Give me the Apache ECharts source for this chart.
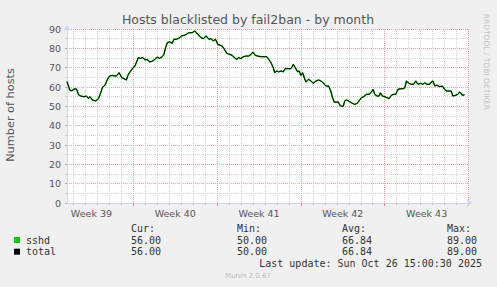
<!DOCTYPE html>
<html><head><meta charset="utf-8">
<script src="https://cdn.jsdelivr.net/npm/echarts@6/dist/echarts.min.js"></script>
<style>html,body{margin:0;padding:0;background:#f0f0f0;}#c{width:497px;height:287px;}</style>
</head><body><div id="c"></div>
<script>
const chartTitle = 'Hosts blacklisted by fail2ban - by month';
const yName = 'Number of hosts';
const watermark = 'RRDTOOL / TOBI OETIKER';
const footer = 'Munin 2.0.67';
const lastUpdate = 'Last update: Sun Oct 26 15:00:30 2025';

// x = days since start of Week 39
const days = [1.46,1.69,1.86,2.06,2.25,2.42,2.61,2.89,3.09,3.25,3.36,3.59,3.86,4.09,4.28,4.42,4.64,4.84,5.03,5.25,5.39,5.59,5.81,6.03,6.23,6.42,6.59,6.78,6.98,7.14,7.25,7.42,7.61,7.81,7.98,8.17,8.36,8.59,8.81,9.0,9.19,9.42,9.56,9.69,9.84,10.03,10.25,10.39,10.59,10.81,11.03,11.23,11.42,11.64,11.92,12.14,12.47,12.67,12.86,13.09,13.31,13.5,13.69,13.86,14.06,14.25,14.42,14.61,14.81,15.03,15.25,15.44,15.64,15.81,16.0,16.19,16.42,16.64,16.84,16.98,17.19,17.39,17.67,17.94,18.14,18.31,18.5,18.69,18.81,18.98,19.14,19.34,19.53,19.69,19.89,20.17,20.36,20.53,20.73,20.86,21.0,21.14,21.28,21.42,21.64,21.84,22.03,22.25,22.48,22.67,22.86,23.09,23.31,23.5,23.64,23.78,23.92,24.11,24.31,24.53,24.67,24.81,24.95,25.14,25.31,25.5,25.69,25.86,26.06,26.25,26.47,26.69,26.89,27.03,27.17,27.36,27.53,27.64,27.81,28.0,28.19,28.36,28.56,28.75,28.92,29.11,29.31,29.53,29.69,29.81,30.03,30.22,30.42,30.59,30.78,30.98,31.19,31.34,31.53,31.75,31.89,32.03,32.19,32.36,32.59,32.81,33.0,33.19,33.42,33.56,33.69,33.92,34.11,34.25,34.39,34.48,34.67];
const hosts = [62.8,58.4,58,59,59,56,55.3,55,55.3,54,55,53.3,52.8,54,57,59.7,61,64,65.7,66,65.7,65.7,67.4,64.8,64.3,63.6,66.6,68.3,70,70.9,72.6,75.2,74.8,75.2,74,74.3,72.9,73.4,74.3,75.5,74.8,75.7,76.9,80.3,82.9,83.4,82.6,84.7,84.7,85.2,86.4,86.7,87.2,88.1,88.1,89,86.7,85.5,85,86.4,84.7,85,83.8,84.7,82,81.6,81.2,79.5,77.4,76.9,76.4,75.2,74.3,75.2,74.7,75.7,76,76,76.9,78.1,76.4,76,75.7,75.7,75.7,74.3,72.6,70,67.4,68.3,67.8,68.3,67.8,69.5,69.5,69.5,71.7,70,67.8,68.3,66,67.4,64.8,62.6,64,63.1,61.9,63.1,63.6,63.1,62.2,60.5,60.5,57.9,54.5,52.2,52.2,52.2,50.2,50,52.8,53.3,52.8,52.2,51.5,51,51.5,52.8,54.5,55,56.2,56.2,57.4,58.8,56.2,55.3,55.3,57,55.3,55,54.5,54,55.7,56.2,56.2,58.8,59.1,59.1,59.7,63.1,61.9,61.4,61.4,63.1,61.4,61.9,61.4,62.2,61.4,61.4,62.6,63.1,60.5,60.9,60.2,60.5,58.8,57.9,57.9,57.9,55.3,55.7,56.2,57.4,56.7,55.7,56];

const weekLabels = ['Week 39','Week 40','Week 41','Week 42','Week 43'];
const weekCenters = [3.5,10.5,17.5,24.5,31.5];
const weekLines = [7,14,21,28,35];
const dayLines = [2,3,4,5,6,8,9,10,11,12,13,15,16,17,18,19,20,22,23,24,25,26,27,29,30,31,32,33,34];

const legendNames = ['sshd','total'];
const legendColors = ['#00cc00','#000000'];
const legendHeaders = ['Cur:','Min:','Avg:','Max:'];
const sshdStats = ['56.00','50.00','66.84','89.00'];
const totalStats = ['56.00','50.00','66.84','89.00'];

const SANS = 'DejaVu Sans';
const colX = [131,237,342,447];

const graphics = [
  {type:'text', x:248, y:19, style:{text:chartTitle, align:'center', verticalAlign:'middle', font:'12.5px "DejaVu Sans"', fill:'#555'}},
  {type:'text', x:10, y:115, rotation:Math.PI/2, style:{text:yName, align:'center', verticalAlign:'middle', font:'11.3px "DejaVu Sans"', fill:'#555'}},
  {type:'text', x:486, y:62, rotation:-Math.PI/2, style:{text:watermark, align:'center', verticalAlign:'middle', font:'7.5px "DejaVu Sans"', fill:'#c4c4c4'}},
  {type:'text', x:248, y:276, style:{text:footer, align:'center', verticalAlign:'middle', font:'7px "DejaVu Sans"', fill:'#bbb'}},
  {type:'text', x:482, y:263.5, style:{text:lastUpdate, align:'right', verticalAlign:'middle', font:'10px "DejaVu Sans Mono"', fill:'#333'}}
];
legendHeaders.forEach((h,i)=>graphics.push({type:'text', x:colX[i], y:228, style:{text:h, align:'left', verticalAlign:'middle', font:'10px "DejaVu Sans Mono"', fill:'#333'}}));
[sshdStats,totalStats].forEach((row,r)=>{
  const y = 240 + r*11.7;
  graphics.push({type:'rect', shape:{x:14, y:y-3, width:6, height:6}, style:{fill:legendColors[r]}});
  graphics.push({type:'text', x:26, y:y, style:{text:legendNames[r], align:'left', verticalAlign:'middle', font:'10px "DejaVu Sans Mono"', fill:'#333'}});
  row.forEach((v,i)=>graphics.push({type:'text', x:colX[i], y:y, style:{text:v, align:'left', verticalAlign:'middle', font:'10px "DejaVu Sans Mono"', fill:'#333'}}));
});

const pts = days.map((d,i)=>[d, hosts[i]]);
const chart = echarts.init(document.getElementById('c'), null, {renderer:'svg'});
chart.setOption({
  animation:false,
  backgroundColor:'#f0f0f0',
  grid:{left:67, right:28.5, top:29, bottom:84, show:true, backgroundColor:'#ffffff', borderWidth:0},
  xAxis:[
    {type:'value', min:1.46, max:35, position:'bottom',
     axisLine:{show:true, onZero:false, lineStyle:{color:'#cfd6f8'}, symbol:['none','arrow'], symbolSize:[6,6], symbolOffset:[0,4]},
     axisTick:{show:true, customValues:dayLines, length:2, lineStyle:{color:'#bbb'}},
     splitLine:{show:true, lineStyle:{color:'#d2d2d2', type:[1,1]}},
     axisLabel:{show:false}},
    {type:'value', min:1.46, max:35, position:'bottom',
     axisLine:{show:false, onZero:false},
     axisTick:{show:true, customValues:weekLines, length:3, lineStyle:{color:'#e08080'}},
     splitLine:{show:true, lineStyle:{color:'#f0a0a0', type:[1,1]}},
     axisLabel:{show:true, customValues:weekCenters, margin:5, color:'#555', fontSize:9.5, fontFamily:SANS,
       formatter:function(v){const i = weekCenters.indexOf(v); return i>=0 ? weekLabels[i] : '';}}}
  ],
  yAxis:{type:'value', min:0, max:90, interval:10,
    axisLine:{show:true, lineStyle:{color:'#cfd6f8'}, symbol:['none','arrow'], symbolSize:[6,6], symbolOffset:[0,4]},
    axisTick:{show:true, length:2, lineStyle:{color:'#aaa'}},
    minorTick:{show:true, splitNumber:2, length:2, lineStyle:{color:'#ccc'}},
    splitLine:{show:true, lineStyle:{color:'#f0a0a0', type:[1,1]}},
    minorSplitLine:{show:true, lineStyle:{color:'#d2d2d2', type:[1,1]}},
    axisLabel:{color:'#555', fontSize:9.5, fontFamily:SANS, margin:6}},
  series:[
    {name:legendNames[0], type:'line', data:pts, showSymbol:false, lineStyle:{color:legendColors[0], width:1.5}},
    {name:legendNames[1], type:'line', data:pts, showSymbol:false, lineStyle:{color:legendColors[1], width:1}}
  ],
  graphic:graphics
});
</script></body></html>
